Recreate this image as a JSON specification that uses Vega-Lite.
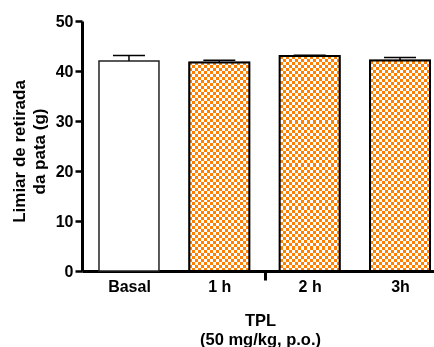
{
"$schema": "https://vega.github.io/schema/vega-lite/v6.json",
"autosize": {"type": "none"},
"padding": {"left": 82, "top": 21, "right": 0, "bottom": 76},
"width": 352,
"height": 250,
"background": "white",
"config": {"view": {"stroke": null}},
"data": {"values": [
{"group": "Basal", "mean": 42.0, "upper": 43.1, "treated": false},
{"group": "1 h", "mean": 41.7, "upper": 42.15, "treated": true},
{"group": "2 h", "mean": 43.0, "upper": 43.15, "treated": true},
{"group": "3h", "mean": 42.1, "upper": 42.7, "treated": true}
]},
"encoding": {
"x": {"field": "group", "type": "nominal", "sort": null,
"scale": {"range": [0, 365], "paddingInner": 0.336, "paddingOuter": 0.188},
"axis": {"title": ["TPL", "(50 mg/kg, p.o.)"], "labelAngle": 0, "labelFont": "Liberation Sans", "labelFontWeight": "bold", "labelFontSize": 16, "labelColor": "black", "labelPadding": -2, "labelOffset": 45,
"domainColor": "black", "domainWidth": 3, "ticks": true, "tickSize": 9, "tickWidth": 3, "tickColor": "black", "tickOffset": -45,
"tickOpacity": {"condition": {"test": "datum.value === '2 h'", "value": 1}, "value": 0},
"titleFont": "Liberation Sans", "titleFontWeight": "bold", "titleFontSize": 16.5, "titleColor": "black", "titleLineHeight": 19, "titleX": 178, "titleY": 54, "titleBaseline": "alphabetic", "titleAlign": "center"}}
},
"layer": [
{"mark": {"type": "bar", "fill": "white", "stroke": "#222", "strokeWidth": 1.5},
"encoding": {"y": {"field": "mean", "type": "quantitative",
"scale": {"domain": [0, 50], "nice": false},
"axis": {"values": [0, 10, 20, 30, 40, 50], "grid": false, "title": ["Limiar de retirada", "da pata (g)"],
"labelFont": "Liberation Sans", "labelFontWeight": "bold", "labelFontSize": 16, "labelColor": "black", "labelPadding": 2,
"domainColor": "black", "domainWidth": 3, "tickSize": 7, "tickWidth": 2.5, "tickColor": "black",
"titleFont": "Liberation Sans", "titleFontWeight": "bold", "titleFontSize": 17, "titleColor": "black", "titleLineHeight": 20, "titleAngle": 270, "titleX": -71, "titleY": 130, "titleBaseline": "top", "titleAlign": "center"}}}},
{"transform": [{"filter": "datum.treated"}],
"mark": {"type": "bar", "strokeWidth": 0, "fill": {"gradient": "linear", "x1": 0, "y1": 0, "x2": 1, "y2": 0, "stops": [
{"offset":0,"color":"#fff"},{"offset":0.05,"color":"#fff"},{"offset":0.05,"color":"#000"},{"offset":0.1,"color":"#000"},{"offset":0.1,"color":"#fff"},{"offset":0.15,"color":"#fff"},{"offset":0.15,"color":"#000"},{"offset":0.2,"color":"#000"},{"offset":0.2,"color":"#fff"},{"offset":0.25,"color":"#fff"},{"offset":0.25,"color":"#000"},{"offset":0.3,"color":"#000"},{"offset":0.3,"color":"#fff"},{"offset":0.35,"color":"#fff"},{"offset":0.35,"color":"#000"},{"offset":0.4,"color":"#000"},{"offset":0.4,"color":"#fff"},{"offset":0.45,"color":"#fff"},{"offset":0.45,"color":"#000"},{"offset":0.5,"color":"#000"},{"offset":0.5,"color":"#fff"},{"offset":0.55,"color":"#fff"},{"offset":0.55,"color":"#000"},{"offset":0.6,"color":"#000"},{"offset":0.6,"color":"#fff"},{"offset":0.65,"color":"#fff"},{"offset":0.65,"color":"#000"},{"offset":0.7,"color":"#000"},{"offset":0.7,"color":"#fff"},{"offset":0.75,"color":"#fff"},{"offset":0.75,"color":"#000"},{"offset":0.8,"color":"#000"},{"offset":0.8,"color":"#fff"},{"offset":0.85,"color":"#fff"},{"offset":0.85,"color":"#000"},{"offset":0.9,"color":"#000"},{"offset":0.9,"color":"#fff"},{"offset":0.95,"color":"#fff"},{"offset":0.95,"color":"#000"},{"offset":1,"color":"#000"}]}},
"encoding": {"y": {"field": "mean", "type": "quantitative"}}},
{"transform": [{"filter": "datum.treated"}],
"mark": {"type": "bar", "strokeWidth": 0, "blend": "difference", "fill": {"gradient": "linear", "x1": 0, "y1": 0, "x2": 0, "y2": 1, "stops": [
{"offset":0,"color":"#fff"},{"offset":0.0143,"color":"#fff"},{"offset":0.0143,"color":"#000"},{"offset":0.0286,"color":"#000"},
{"offset":0.0286,"color":"#fff"},{"offset":0.0429,"color":"#fff"},{"offset":0.0429,"color":"#000"},{"offset":0.0571,"color":"#000"},
{"offset":0.0571,"color":"#fff"},{"offset":0.0714,"color":"#fff"},{"offset":0.0714,"color":"#000"},{"offset":0.0857,"color":"#000"},
{"offset":0.0857,"color":"#fff"},{"offset":0.1,"color":"#fff"},{"offset":0.1,"color":"#000"},{"offset":0.1143,"color":"#000"},
{"offset":0.1143,"color":"#fff"},{"offset":0.1286,"color":"#fff"},{"offset":0.1286,"color":"#000"},{"offset":0.1429,"color":"#000"},
{"offset":0.1429,"color":"#fff"},{"offset":0.1571,"color":"#fff"},{"offset":0.1571,"color":"#000"},{"offset":0.1714,"color":"#000"},
{"offset":0.1714,"color":"#fff"},{"offset":0.1857,"color":"#fff"},{"offset":0.1857,"color":"#000"},{"offset":0.2,"color":"#000"},
{"offset":0.2,"color":"#fff"},{"offset":0.2143,"color":"#fff"},{"offset":0.2143,"color":"#000"},{"offset":0.2286,"color":"#000"},
{"offset":0.2286,"color":"#fff"},{"offset":0.2429,"color":"#fff"},{"offset":0.2429,"color":"#000"},{"offset":0.2571,"color":"#000"},
{"offset":0.2571,"color":"#fff"},{"offset":0.2714,"color":"#fff"},{"offset":0.2714,"color":"#000"},{"offset":0.2857,"color":"#000"},
{"offset":0.2857,"color":"#fff"},{"offset":0.3,"color":"#fff"},{"offset":0.3,"color":"#000"},{"offset":0.3143,"color":"#000"},
{"offset":0.3143,"color":"#fff"},{"offset":0.3286,"color":"#fff"},{"offset":0.3286,"color":"#000"},{"offset":0.3429,"color":"#000"},
{"offset":0.3429,"color":"#fff"},{"offset":0.3571,"color":"#fff"},{"offset":0.3571,"color":"#000"},{"offset":0.3714,"color":"#000"},
{"offset":0.3714,"color":"#fff"},{"offset":0.3857,"color":"#fff"},{"offset":0.3857,"color":"#000"},{"offset":0.4,"color":"#000"},
{"offset":0.4,"color":"#fff"},{"offset":0.4143,"color":"#fff"},{"offset":0.4143,"color":"#000"},{"offset":0.4286,"color":"#000"},
{"offset":0.4286,"color":"#fff"},{"offset":0.4429,"color":"#fff"},{"offset":0.4429,"color":"#000"},{"offset":0.4571,"color":"#000"},
{"offset":0.4571,"color":"#fff"},{"offset":0.4714,"color":"#fff"},{"offset":0.4714,"color":"#000"},{"offset":0.4857,"color":"#000"},
{"offset":0.4857,"color":"#fff"},{"offset":0.5,"color":"#fff"},{"offset":0.5,"color":"#000"},{"offset":0.5143,"color":"#000"},
{"offset":0.5143,"color":"#fff"},{"offset":0.5286,"color":"#fff"},{"offset":0.5286,"color":"#000"},{"offset":0.5429,"color":"#000"},
{"offset":0.5429,"color":"#fff"},{"offset":0.5571,"color":"#fff"},{"offset":0.5571,"color":"#000"},{"offset":0.5714,"color":"#000"},
{"offset":0.5714,"color":"#fff"},{"offset":0.5857,"color":"#fff"},{"offset":0.5857,"color":"#000"},{"offset":0.6,"color":"#000"},
{"offset":0.6,"color":"#fff"},{"offset":0.6143,"color":"#fff"},{"offset":0.6143,"color":"#000"},{"offset":0.6286,"color":"#000"},
{"offset":0.6286,"color":"#fff"},{"offset":0.6429,"color":"#fff"},{"offset":0.6429,"color":"#000"},{"offset":0.6571,"color":"#000"},
{"offset":0.6571,"color":"#fff"},{"offset":0.6714,"color":"#fff"},{"offset":0.6714,"color":"#000"},{"offset":0.6857,"color":"#000"},
{"offset":0.6857,"color":"#fff"},{"offset":0.7,"color":"#fff"},{"offset":0.7,"color":"#000"},{"offset":0.7143,"color":"#000"},
{"offset":0.7143,"color":"#fff"},{"offset":0.7286,"color":"#fff"},{"offset":0.7286,"color":"#000"},{"offset":0.7429,"color":"#000"},
{"offset":0.7429,"color":"#fff"},{"offset":0.7571,"color":"#fff"},{"offset":0.7571,"color":"#000"},{"offset":0.7714,"color":"#000"},
{"offset":0.7714,"color":"#fff"},{"offset":0.7857,"color":"#fff"},{"offset":0.7857,"color":"#000"},{"offset":0.8,"color":"#000"},
{"offset":0.8,"color":"#fff"},{"offset":0.8143,"color":"#fff"},{"offset":0.8143,"color":"#000"},{"offset":0.8286,"color":"#000"},
{"offset":0.8286,"color":"#fff"},{"offset":0.8429,"color":"#fff"},{"offset":0.8429,"color":"#000"},{"offset":0.8571,"color":"#000"},
{"offset":0.8571,"color":"#fff"},{"offset":0.8714,"color":"#fff"},{"offset":0.8714,"color":"#000"},{"offset":0.8857,"color":"#000"},
{"offset":0.8857,"color":"#fff"},{"offset":0.9,"color":"#fff"},{"offset":0.9,"color":"#000"},{"offset":0.9143,"color":"#000"},
{"offset":0.9143,"color":"#fff"},{"offset":0.9286,"color":"#fff"},{"offset":0.9286,"color":"#000"},{"offset":0.9429,"color":"#000"},
{"offset":0.9429,"color":"#fff"},{"offset":0.9571,"color":"#fff"},{"offset":0.9571,"color":"#000"},{"offset":0.9714,"color":"#000"},
{"offset":0.9714,"color":"#fff"},{"offset":0.9857,"color":"#fff"},{"offset":0.9857,"color":"#000"},{"offset":1,"color":"#000"}]}},
"encoding": {"y": {"field": "mean", "type": "quantitative"}}},
{"transform": [{"filter": "datum.treated"}],
"mark": {"type": "bar", "strokeWidth": 0, "blend": "screen", "fill": "#ff8000"},
"encoding": {"y": {"field": "mean", "type": "quantitative"}}},
{"transform": [{"filter": "datum.treated"}],
"mark": {"type": "bar", "fill": null, "fillOpacity": 0, "stroke": "black", "strokeWidth": 2},
"encoding": {"y": {"field": "mean", "type": "quantitative"}}},
{"mark": {"type": "rule", "stroke": "black", "strokeWidth": 1.5},
"encoding": {"y": {"field": "mean", "type": "quantitative"}, "y2": {"field": "upper"}}},
{"mark": {"type": "tick", "color": "black", "opacity": 1, "size": 32, "thickness": 1.5},
"encoding": {"y": {"field": "upper", "type": "quantitative"}}}
]
}
